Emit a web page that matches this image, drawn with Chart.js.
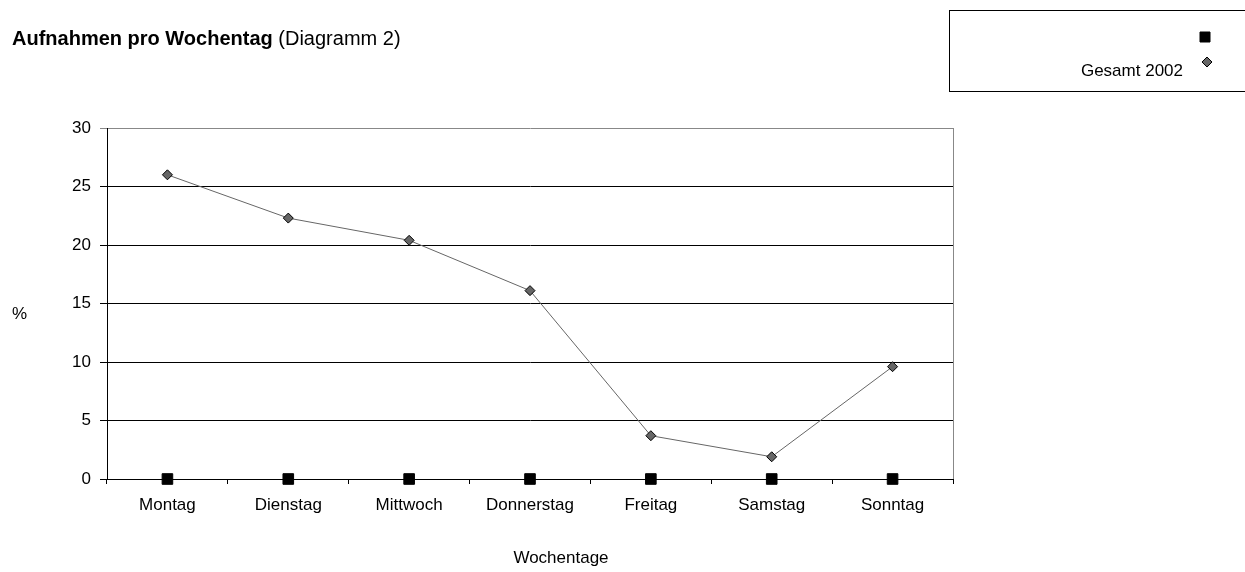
<!DOCTYPE html>
<html>
<head>
<meta charset="utf-8">
<script src="https://cdn.jsdelivr.net/npm/chart.js@4"></script>
<style>
  html, body { margin: 0; padding: 0; background: #fff; }
  #wrap { width: 1245px; height: 572px; position: relative; }
</style>
</head>
<body>
<div id="wrap"><canvas id="dayChart"></canvas></div>
<script>
// --- data ---
const days = ['Montag', 'Dienstag', 'Mittwoch', 'Donnerstag', 'Freitag', 'Samstag', 'Sonntag'];
const gesamt2002 = [26.0, 22.3, 20.4, 16.1, 3.7, 1.9, 9.6];
const unnamedSeries = [0, 0, 0, 0, 0, 0, 0];
const yMin = 0, yMax = 30, yStep = 5;

const FONT = '"Liberation Sans", Arial, sans-serif';

// title, axis titles, plot frame and legend box (Excel style)
const decorations = {
    id: 'decorations',
    afterDraw(chart) {
        const ctx = chart.ctx;
        const area = chart.chartArea;
        ctx.save();

        // right edge of plot area
        ctx.strokeStyle = '#888';
        ctx.lineWidth = 1;
        ctx.beginPath();
        ctx.moveTo(Math.round(area.right) + 0.5, area.top);
        ctx.lineTo(Math.round(area.right) + 0.5, area.bottom);
        ctx.stroke();

        // title: bold part + normal part
        ctx.fillStyle = '#000';
        ctx.textBaseline = 'middle';
        ctx.textAlign = 'left';
        ctx.font = 'bold 20px ' + FONT;
        const boldText = 'Aufnahmen pro Wochentag';
        ctx.fillText(boldText, 12, 39);
        const w = ctx.measureText(boldText + ' ').width;
        ctx.font = '20px ' + FONT;
        ctx.fillText('(Diagramm 2)', 12 + w, 39);

        // axis titles
        ctx.font = '17px ' + FONT;
        ctx.fillText('%', 12, 314);
        ctx.textAlign = 'center';
        ctx.fillText('Wochentage', 561, 558);

        // legend box
        ctx.strokeStyle = '#000';
        ctx.strokeRect(949.5, 10.5, 320, 81);
        const ds = chart.data.datasets;
        const rows = [37, 62];
        ds.forEach((d, i) => {
            const y = rows[i];
            ctx.fillStyle = d.pointBackgroundColor;
            ctx.strokeStyle = d.pointBorderColor;
            ctx.lineWidth = 1;
            ctx.beginPath();
            if (d.pointStyle === 'rect') {
                ctx.rect(1200, y - 5, 10, 10);
            } else {
                ctx.moveTo(1207, y - 5);
                ctx.lineTo(1212, y);
                ctx.lineTo(1207, y + 5);
                ctx.lineTo(1202, y);
                ctx.closePath();
            }
            ctx.fill();
            ctx.stroke();
            if (d.label) {
                ctx.fillStyle = '#000';
                ctx.textAlign = 'right';
                ctx.font = '17px ' + FONT;
                ctx.fillText(d.label, 1183, y + 9);
            }
        });
        ctx.restore();
    }
};

new Chart(document.getElementById('dayChart'), {
    type: 'line',
    data: {
        labels: days,
        datasets: [{
            label: '',
            data: unnamedSeries,
            showLine: false,
            clip: false,
            pointStyle: 'rect',
            pointRadius: 7.5,
            pointHoverRadius: 7.5,
            pointBackgroundColor: '#000',
            pointBorderColor: '#000',
            pointBorderWidth: 1
        }, {
            label: 'Gesamt 2002',
            data: gesamt2002,
            clip: false,
            borderColor: '#666',
            borderWidth: 1,
            tension: 0,
            pointStyle: 'rectRot',
            pointRadius: 5,
            pointHoverRadius: 5,
            pointBackgroundColor: '#666',
            pointBorderColor: '#000',
            pointBorderWidth: 1
        }]
    },
    options: {
        responsive: true,
        maintainAspectRatio: false,
        animation: false,
        layout: { padding: { left: 0, top: 128, right: 292, bottom: 0 } },
        plugins: {
            legend: { display: false },
            tooltip: { enabled: false }
        },
        scales: {
            x: {
                offset: true,
                afterFit: (scale) => { scale.height = 93; },
                grid: {
                    offset: true,
                    drawOnChartArea: false,
                    drawTicks: true,
                    tickLength: 5,
                    color: '#000'
                },
                border: { color: '#000', width: 1 },
                ticks: { color: '#000', padding: 11, font: { family: FONT, size: 17 }, maxRotation: 0 }
            },
            y: {
                min: yMin,
                max: yMax,
                afterFit: (scale) => { scale.width = 107; },
                grid: {
                    color: (c) => (c.tick && c.tick.value === yMax ? '#888' : '#000'),
                    tickLength: 7,
                    lineWidth: 1
                },
                border: { color: '#000', width: 1 },
                ticks: { stepSize: yStep, color: '#000', padding: 9, font: { family: FONT, size: 17 } }
            }
        }
    },
    plugins: [decorations]
});
</script>
</body>
</html>
